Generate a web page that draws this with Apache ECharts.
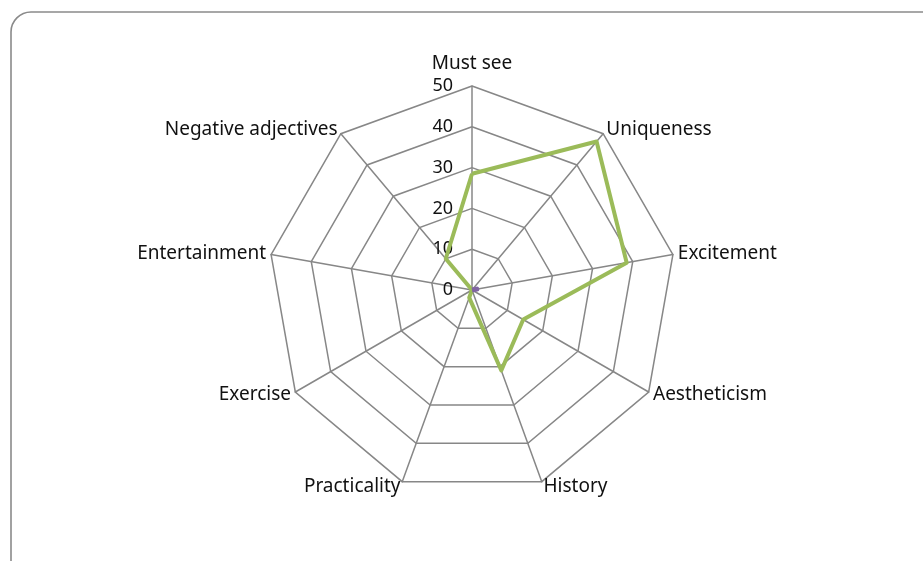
<!DOCTYPE html>
<html>
<head>
<meta charset="utf-8">
<script src="https://cdn.jsdelivr.net/npm/echarts@6/dist/echarts.min.js"></script>
<style>
  html, body { margin: 0; padding: 0; background: #ffffff; }
  #chart { width: 923px; height: 561px; }
</style>
</head>
<body>
<div id="chart"></div>
<script>
// Attributes rated, clockwise from the top
const categories = ['Must see', 'Uniqueness', 'Excitement', 'Aestheticism', 'History',
                    'Practicality', 'Exercise', 'Entertainment', 'Negative adjectives'];
const scoresGreen = [28.5, 47.5, 38.5, 14.5, 21, 2, 0, 0, 10];
const scoresPurple = [0, 0, 1.2, 0, 0, 0, 0, 0, 0];
const tickMax = 50;
const tickStep = 10;

const FONT = 'Noto Sans';
const GRID = '#878787';
const CENTER = [472, 290];
const RADIUS = 204;

// ECharts lays radar indicators out counter-clockwise, so keep the first
// one on top and walk the rest backwards to get a clockwise order.
const order = [0].concat(categories.map((_, i) => i).slice(1).reverse());
const pick = arr => order.map(i => arr[i]);

const chart = echarts.init(document.getElementById('chart'), null, { renderer: 'canvas' });

const indicators = pick(categories).map(n => ({ name: n, min: 0, max: tickMax }));

chart.setOption({
  animation: false,
  backgroundColor: '#ffffff',
  graphic: [{
    type: 'rect',
    shape: { x: 11, y: 12, width: 960, height: 600, r: 20 },
    style: { fill: 'none', stroke: '#8a8a8a', lineWidth: 1.6 },
    silent: true
  }],
  radar: [{
    center: CENTER,
    radius: RADIUS,
    startAngle: 90,
    shape: 'polygon',
    splitNumber: tickMax / tickStep,
    indicator: indicators,
    axisName: {
      color: '#111', fontFamily: FONT, fontSize: 19,
      formatter: n => n === categories[0] ? '{top|' + n + '}' : n,
      rich: { top: { fontFamily: FONT, fontSize: 19, color: '#111', padding: [0, 0, 8, 0] } }
    },
    nameGap: 5,
    axisLine: { lineStyle: { color: GRID, width: 1.5 } },
    splitLine: { lineStyle: { color: GRID, width: 1.5 } },
    splitArea: { show: false },
    axisTick: { show: false },
    axisLabel: { show: false }
  }, {
    // value scale shown along the top spoke only
    center: CENTER,
    radius: RADIUS,
    startAngle: 90,
    shape: 'polygon',
    splitNumber: tickMax / tickStep,
    indicator: [{ name: '', min: 0, max: tickMax }],
    axisLine: { show: false },
    splitLine: { show: false },
    splitArea: { show: false },
    axisTick: { show: false },
    axisLabel: { show: true, color: '#111', fontFamily: FONT, fontSize: 18, margin: 19 }
  }],
  series: [{
    type: 'radar',
    radarIndex: 0,
    symbol: 'none',
    lineStyle: { color: '#9bbb59', width: 4 },
    data: [{ value: pick(scoresGreen) }],
    z: 3
  }, {
    type: 'radar',
    radarIndex: 0,
    symbol: 'none',
    lineStyle: { color: '#8064a2', width: 5 },
    data: [{ value: pick(scoresPurple) }],
    z: 4
  }]
});
</script>
</body>
</html>
